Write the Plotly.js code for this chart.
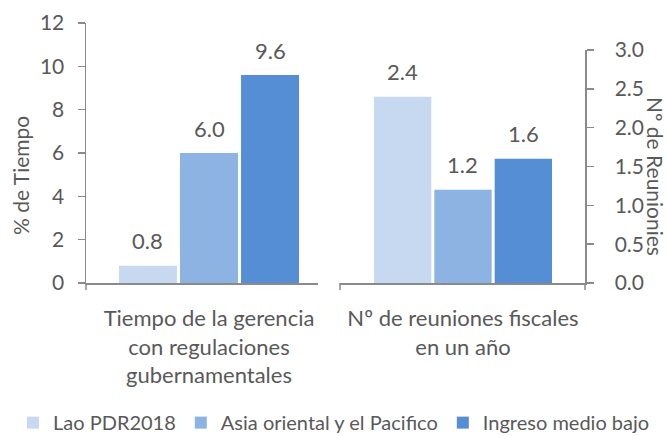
<!DOCTYPE html>
<html>
<head>
<meta charset="utf-8">
<script src="https://cdn.plot.ly/plotly-3.0.1.min.js"></script>
<style>html,body{margin:0;padding:0;background:#fff;}</style>
</head>
<body>
<div id="chart" style="width:668px;height:436px;"></div>
<script>
// ---- data ----
const categoriesLeft = ["Tiempo de la gerencia<br>con regulaciones<br>gubernamentales"];
const categoriesRight = ["Nº de reuniones fiscales<br>en un año"];
const seriesNames = ["Lao PDR2018", "Asia oriental y el Pacifico", "Ingreso medio bajo"];
const laoValues = [0.8, 2.4];
const asiaValues = [6.0, 1.2];
const ingresoValues = [9.6, 1.6];
const leftTicks = [0, 2, 4, 6, 8, 10, 12];
const rightTicks = [0.0, 0.5, 1.0, 1.5, 2.0, 2.5, 3.0];
const leftTitle = "% de Tiempo";
const rightTitle = "Nº de Reunionies";

// ---- style ----
const colors = ["#C6D9F0", "#8DB3E2", "#558ED5"];
const textColor = "#595959";
const lineColor = "#8a8a8a";
const FONT = "Lato, 'Open Sans', sans-serif";
const FS = 22;
const TFS = 21;
const W = 668;
const px = (p) => p / W;   // pixel -> paper x (margins are zero horizontally)

const allValues = [laoValues, asiaValues, ingresoValues];
const traces = [];
allValues.forEach((vals, i) => {
  traces.push({
    type: "bar", name: seriesNames[i], x: categoriesLeft, y: [vals[0]],
    xaxis: "x", yaxis: "y", marker: {color: colors[i]}, legendgroup: "s" + i,
    showlegend: true, hoverinfo: "skip"
  });
  traces.push({
    type: "bar", name: seriesNames[i], x: categoriesRight, y: [vals[1]],
    xaxis: "x2", yaxis: "y2", marker: {color: colors[i]}, legendgroup: "s" + i,
    showlegend: false, hoverinfo: "skip"
  });
});

const bargap = 0.2, bargroupgap = 0.05;
const slot = (1 - bargap) / seriesNames.length;
const annotations = [];
allValues.forEach((vals, i) => {
  const off = (i - (seriesNames.length - 1) / 2) * slot;
  annotations.push({x: off, y: vals[0], xref: "x", yref: "y", text: vals[0].toFixed(1),
    showarrow: false, yshift: 25, font: {family: FONT, size: FS, color: textColor}});
  annotations.push({x: off, y: vals[1], xref: "x2", yref: "y2", text: vals[1].toFixed(1),
    showarrow: false, yshift: 25, font: {family: FONT, size: FS, color: textColor}});
});
annotations.push({xref: "paper", yref: "paper", x: px(20), y: 0.4115, text: leftTitle,
  xanchor: "center", yanchor: "middle",
  textangle: -90, showarrow: false, font: {family: FONT, size: TFS, color: textColor}});
annotations.push({xref: "paper", yref: "paper", x: px(656), y: 0.4115, text: rightTitle,
  xanchor: "center", yanchor: "middle",
  textangle: 90, showarrow: false, font: {family: FONT, size: TFS, color: textColor}});

const xDom1 = [px(86), px(317.5)], xDom2 = [px(340), px(585)];
const tickShape = (xp) => ({type: "line", xref: "paper", yref: "paper", x0: xp, x1: xp,
  ysizemode: "pixel", yanchor: 0, y0: 0, y1: -7, line: {color: lineColor, width: 1.5}});

const axisFont = {family: FONT, size: FS, color: textColor};
const tickFont = {family: FONT, size: TFS, color: textColor};
const layout = {
  width: 668, height: 436,
  margin: {l: 0, r: 0, t: 23, b: 153, autoexpand: false},
  paper_bgcolor: "#fff", plot_bgcolor: "rgba(0,0,0,0)",
  barmode: "group", bargap: bargap, bargroupgap: bargroupgap,
  font: {family: FONT, size: FS, color: textColor},
  xaxis: {domain: xDom1, anchor: "y", type: "category", range: [-0.5376, 0.4742],
    showline: true, linecolor: lineColor, linewidth: 1.5, ticks: "", showgrid: false,
    zeroline: false, tickfont: axisFont, ticklabelstandoff: 15, fixedrange: true, automargin: false},
  xaxis2: {domain: xDom2, anchor: "y2", type: "category", range: [-0.5435, 0.5392],
    showline: true, linecolor: lineColor, linewidth: 1.5, ticks: "", showgrid: false,
    zeroline: false, tickfont: axisFont, ticklabelstandoff: 15, fixedrange: true, automargin: false},
  yaxis: {domain: [0, 1], anchor: "x", range: [0, 12], tickvals: leftTicks,
    ticktext: leftTicks.map(String), showline: true, linecolor: lineColor, linewidth: 1.5,
    ticks: "outside", ticklen: 7, tickcolor: lineColor, tickwidth: 1.5, showgrid: false,
    zeroline: false, tickfont: tickFont, ticklabelstandoff: 9, fixedrange: true, automargin: false},
  yaxis2: {domain: [0, 0.896], anchor: "x2", side: "right", range: [0, 3], tickvals: rightTicks,
    ticktext: rightTicks.map(v => v.toFixed(1)), showline: true, linecolor: lineColor, linewidth: 1.5,
    ticks: "outside", ticklen: 7, tickcolor: lineColor, tickwidth: 1.5, showgrid: false,
    zeroline: false, tickfont: tickFont, ticklabelstandoff: 17, fixedrange: true, automargin: false},
  legend: {orientation: "h", x: 0.5, xanchor: "center",
    y: -0.612, yanchor: "bottom",
    font: {family: FONT, size: 20, color: textColor}, itemclick: false, itemdoubleclick: false,
    traceorder: "normal", tracegroupgap: 0},
  shapes: [tickShape(xDom1[0]), tickShape(xDom2[0]), tickShape(xDom2[1])],
  annotations: annotations,
  showlegend: true
};

Plotly.newPlot("chart", traces, layout, {displayModeBar: false, staticPlot: true});
</script>
</body>
</html>
